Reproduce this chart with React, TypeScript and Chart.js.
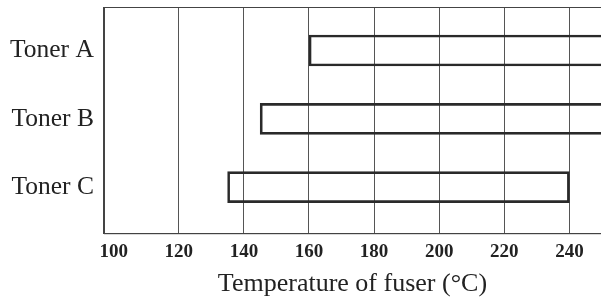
import React, { useEffect, useRef } from "react";
import { Chart, registerables } from "chart.js";

Chart.register(...registerables);

const categories = ["Toner A", "Toner B", "Toner C"];
const rangeStart = [160, 145, 135];
const rangeEnd = [270, 270, 240];
const xTicks = [100, 120, 140, 160, 180, 200, 220, 240];

const FONT = '"Liberation Serif", "Times New Roman", serif';

const frame = {
  id: "frame",
  afterDraw(chart: any) {
    const { ctx, chartArea } = chart;
    ctx.save();
    ctx.strokeStyle = "#444";
    ctx.lineWidth = 1;
    ctx.strokeRect(
      Math.round(chartArea.left) + 0.5,
      Math.round(chartArea.top) + 0.5,
      chartArea.right - chartArea.left + 2,
      chartArea.bottom - chartArea.top
    );
    ctx.restore();
  },
};

export default function App() {
  const ref = useRef<HTMLCanvasElement | null>(null);
  useEffect(() => {
    if (!ref.current) return;
    const data = categories.map((_, i) => ({ x: [rangeStart[i], rangeEnd[i]], y: i }));
    const chart = new Chart(ref.current, {
      type: "bar",
      data: {
        datasets: [
          {
            data: data as any,
            backgroundColor: "rgba(0,0,0,0)",
            borderColor: "#2a2a2a",
            borderWidth: 2,
            borderSkipped: false,
            barThickness: 31,
          },
        ],
      },
      options: {
        indexAxis: "y",
        responsive: false,
        animation: false,
        layout: { padding: { left: 0, top: 7, right: 0, bottom: 0 } },
        plugins: { legend: { display: false }, tooltip: { enabled: false } },
        scales: {
          x: {
            type: "linear",
            min: 97,
            max: 249.7,
            afterBuildTicks: (scale: any) => {
              scale.ticks = xTicks.map((v) => ({ value: v }));
            },
            grid: {
              color: (c: any) => (c.tick && c.tick.value === 100 ? "rgba(0,0,0,0)" : "#555"),
              lineWidth: 1,
              drawTicks: false,
            },
            border: { display: true, color: "#444", width: 1 },
            ticks: {
              padding: 7,
              color: "#222",
              font: { family: FONT, size: 19, weight: "bold" },
              maxRotation: 0,
            },
            title: {
              display: true,
              text: "Temperature of fuser (°C)",
              color: "#222",
              font: { family: FONT, size: 26, lineHeight: 1 },
              padding: { top: 1, bottom: 0 },
            },
          },
          y: {
            type: "linear",
            reverse: true,
            offset: false,
            min: -0.637,
            max: 2.674,
            afterBuildTicks: (scale: any) => {
              scale.ticks = categories.map((_, i) => ({ value: i }));
            },
            afterFit: (scale: any) => {
              scale.paddingTop = 0;
              scale.paddingBottom = 0;
            },
            grid: { display: false, drawTicks: false, offset: false },
            border: { display: true, color: "#444", width: 1 },
            ticks: {
              padding: 10,
              color: "#222",
              font: { family: FONT, size: 25.5 },
              callback: (v: any) => categories[Number(v)] ?? "",
            },
          },
        },
      },
      plugins: [frame],
    });
    return () => chart.destroy();
  }, []);
  return (
    <div
      style={{
        position: "absolute",
        left: 0,
        top: 0,
        width: 601,
        height: 297,
        overflow: "hidden",
        background: "#fff",
      }}
    >
      <canvas ref={ref} width={601} height={297} style={{ display: "block" }} />
    </div>
  );
}
